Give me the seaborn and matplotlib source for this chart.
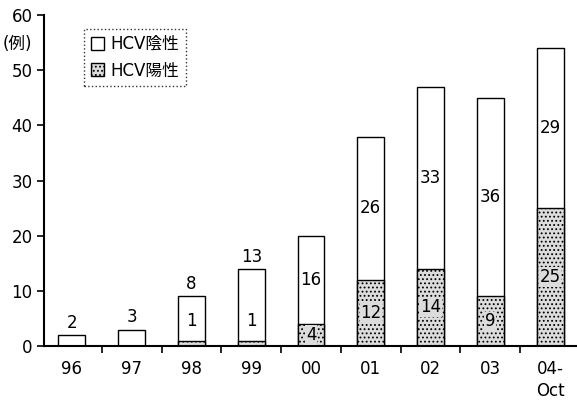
import matplotlib
matplotlib.use("Agg")
import matplotlib.pyplot as plt
import seaborn as sns
import pandas as pd
from matplotlib.patches import Patch

years = ["96", "97", "98", "99", "00", "01", "02", "03", "04-\nOct"]
hcv_pos = [0, 0, 1, 1, 4, 12, 14, 9, 25]
hcv_neg = [2, 3, 8, 13, 16, 26, 33, 36, 29]
yticks = [0, 10, 20, 30, 40, 50, 60]

sns.set_theme(style="white")
plt.rcParams['font.family'] = ['DejaVu Sans', 'Noto Sans CJK JP']
plt.rcParams['text.color'] = 'black'
plt.rcParams['xtick.color'] = 'black'
plt.rcParams['ytick.color'] = 'black'
plt.rcParams['hatch.color'] = '#555555'
plt.rcParams['hatch.linewidth'] = 0.8

df = pd.DataFrame({"year": years, "pos": hcv_pos, "neg": hcv_neg})
df["total"] = df["pos"] + df["neg"]

fig = plt.figure(figsize=(5.77, 4.11), dpi=100)
ax = fig.add_axes([0.076, 0.158, 0.924, 0.805])

sns.barplot(data=df, x="year", y="total", order=years, color="white",
            edgecolor="black", linewidth=1.0, width=0.45, ax=ax, saturation=1)
sns.barplot(data=df, x="year", y="pos", order=years, color="#dcdcdc",
            edgecolor="black", linewidth=1.0, width=0.45, ax=ax, saturation=1,
            hatch="....")
for p in ax.patches:
    p.set_edgecolor("black")

fs = 12
for i, (p, n) in enumerate(zip(hcv_pos, hcv_neg)):
    tot = p + n
    if tot < 15:
        ax.text(i, tot + 0.6, str(n), ha="center", va="bottom", fontsize=fs)
        if p > 0:
            ax.text(i, p + 2.0, str(p), ha="center", va="bottom", fontsize=fs)
    else:
        ax.text(i, p + n / 2, str(n), ha="center", va="center", fontsize=fs,
                bbox=dict(facecolor="white", edgecolor="none", pad=0.5))
        ax.text(i, p / 2, str(p), ha="center", va="center", fontsize=fs,
                bbox=dict(facecolor="#dcdcdc", edgecolor="none", pad=0.5))

ax.set_xlim(-0.47, 8.45)
ax.set_ylim(0, 60)
ax.set_yticks(yticks)
ax.set_yticklabels([str(t) for t in yticks], fontsize=fs)
ax.set_xticks(range(len(years)))
ax.set_xticklabels(years, fontsize=fs, linespacing=1.3)
ax.tick_params(axis="x", length=0, pad=10)
ax.set_xticks([i + 0.5 for i in range(len(years) - 1)], minor=True)
ax.tick_params(axis="x", which="minor", length=5, direction="out", bottom=True, width=1.2, color="black")
ax.tick_params(axis="y", length=5, direction="out", left=True, width=1.2, color="black", pad=3)
ax.set_xlabel("")
ax.set_ylabel("")
for s in ["top", "right"]:
    ax.spines[s].set_visible(False)
for s in ["left", "bottom"]:
    ax.spines[s].set_color("black")
    ax.spines[s].set_linewidth(1.5)

fig.text(0.005, 0.893, "(例)", fontsize=fs, ha="left", va="center")

handles = [Patch(facecolor="white", edgecolor="black", label="HCV陰性"),
           Patch(facecolor="#dcdcdc", edgecolor="black", hatch="....", label="HCV陽性")]
leg = ax.legend(handles=handles, loc="upper left", bbox_to_anchor=(0.06, 0.985),
                fontsize=fs, frameon=True, handlelength=0.8, handleheight=0.8,
                handletextpad=0.4, borderpad=0.4, labelspacing=0.5, fancybox=False)
leg.get_frame().set_edgecolor("black")
leg.get_frame().set_linestyle(":")
leg.get_frame().set_linewidth(1.0)

fig.savefig("out.png", dpi=100)
